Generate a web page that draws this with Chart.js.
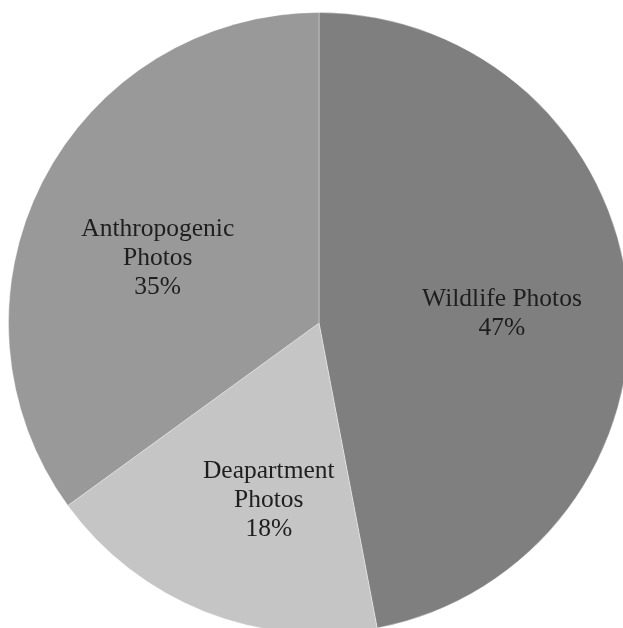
<!DOCTYPE html>
<html>
<head>
<meta charset="utf-8">
<script src="https://cdn.jsdelivr.net/npm/chart.js@4/dist/chart.umd.min.js"></script>
<style>
  html, body { margin: 0; padding: 0; background: #fff; overflow: hidden; }
  #wrap { position: absolute; left: 8px; top: 12px; width: 622px; height: 622px; }
</style>
</head>
<body>
<div id="wrap"><canvas id="pieChart"></canvas></div>
<script>
const categories = [['Wildlife Photos'], ['Deapartment', 'Photos'], ['Anthropogenic', 'Photos']];
const shares = [47, 18, 35];
const sliceColors = ['#7f7f7f', '#c4c5c4', '#989998'];

// where each label sits inside its slice: fraction along the arc, fraction of radius
const labelSpots = [[0.515, 0.59], [0.41, 0.595], [0.46, 0.56]];

const sliceLabels = {
  id: 'sliceLabels',
  afterDatasetsDraw(chart) {
    const ctx = chart.ctx;
    const arcs = chart.getDatasetMeta(0).data;
    ctx.save();
    ctx.font = '25.5px "Liberation Serif", "Times New Roman", serif';
    ctx.fillStyle = '#1e1e1e';
    ctx.textAlign = 'center';
    ctx.textBaseline = 'middle';
    arcs.forEach((arc, i) => {
      const p = arc.getProps(['x', 'y', 'startAngle', 'endAngle', 'outerRadius'], true);
      const a = p.startAngle + (p.endAngle - p.startAngle) * labelSpots[i][0];
      const r = p.outerRadius * labelSpots[i][1];
      const cx = p.x + Math.cos(a) * r;
      const cy = p.y + Math.sin(a) * r;
      const lines = categories[i].concat([shares[i] + '%']);
      const lh = 29;
      lines.forEach((t, j) => {
        ctx.fillText(t, cx, cy + (j - (lines.length - 1) / 2) * lh);
      });
    });
    ctx.restore();
  }
};

new Chart(document.getElementById('pieChart').getContext('2d'), {
  type: 'pie',
  data: {
    labels: categories.map(c => c.join(' ')),
    datasets: [{
      data: shares,
      backgroundColor: sliceColors,
      borderColor: 'rgba(255,255,255,0.35)',
      borderWidth: 1
    }]
  },
  options: {
    responsive: true,
    maintainAspectRatio: false,
    animation: false,
    layout: { padding: 0 },
    plugins: {
      legend: { display: false },
      tooltip: { enabled: false }
    }
  },
  plugins: [sliceLabels]
});
</script>
</body>
</html>
